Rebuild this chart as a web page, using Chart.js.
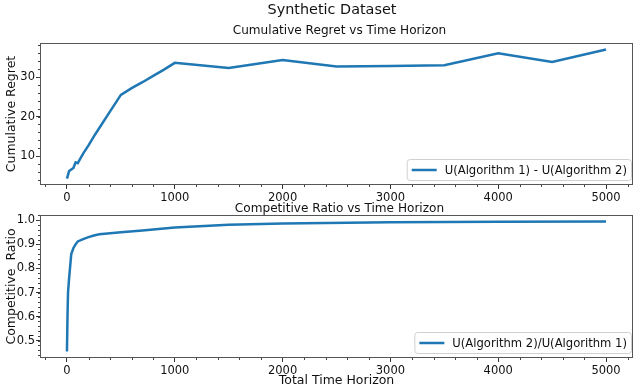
<!DOCTYPE html>
<html>
<head>
<meta charset="utf-8">
<script src="https://cdn.jsdelivr.net/npm/chart.js@4.4.0/dist/chart.umd.min.js"></script>
<style>
  html, body { margin: 0; padding: 0; background: #fff; }
  #wrap { position: relative; width: 640px; height: 388px; overflow: hidden; }
  #wrap canvas { position: absolute; left: 0; top: 0; }
  #suptitle { position: absolute; left: 0; top: 1px; width: 664px; text-align: center;
              font: 14.4px "DejaVu Sans"; line-height: 17px; color: #111; }
</style>
</head>
<body>
<div id="wrap">
  <canvas id="regret" width="640" height="388"></canvas>
  <canvas id="ratio" width="640" height="388"></canvas>
  <div id="suptitle">Synthetic Dataset</div>
</div>
<script>
// time horizon points and values
const horizonRegret = [0, 20, 40, 60, 80, 100, 150, 200, 250, 300, 400, 500, 600, 700, 800, 900, 1000,
                       1500, 2000, 2500, 3000, 3500, 4000, 4500, 5000];
const cumRegret = [4.3, 6.2, 6.6, 7.0, 8.4, 8.2, 10.6, 12.7, 15.0, 17.1, 21.3, 25.5, 27.2, 28.7, 30.3, 31.9, 33.6,
                   32.3, 34.3, 32.7, 32.8, 33.0, 36.0, 33.8, 37.0];

const horizonRatio = [0, 5, 10, 20, 40, 60, 80, 100, 150, 200, 250, 300, 400, 500, 700, 1000,
                      1500, 2000, 3000, 4000, 5000];
const compRatio = [0.455, 0.6, 0.7, 0.76, 0.86, 0.885, 0.9, 0.912, 0.922, 0.93, 0.937, 0.942, 0.946, 0.95, 0.958, 0.97,
                   0.981, 0.987, 0.992, 0.994, 0.995];

const xTicks = [0, 1000, 2000, 3000, 4000, 5000];
const regretTicks = [10, 20, 30];
const ratioTicks = [0.5, 0.6, 0.7, 0.8, 0.9, 1.0];

const BLUE = '#1f77b4';
const FONT = '"DejaVu Sans"';

// box, minor ticks, subplot title and legend, matplotlib style
const framePlugin = {
  id: 'frame',
  afterDraw(chart, args, o) {
    const {ctx, chartArea: a, scales} = chart;
    ctx.save();
    ctx.strokeStyle = '#555';
    ctx.lineWidth = 1;
    ctx.strokeRect(a.left + 0.5, a.top + 0.5, a.right - a.left - 1, a.bottom - a.top - 1);

    // minor ticks
    ctx.strokeStyle = '#444';
    ctx.beginPath();
    for (let v = -200; v <= 5200; v += 200) {
      if (v % 1000 === 0) continue;
      const px = Math.round(scales.x.getPixelForValue(v)) + 0.5;
      ctx.moveTo(px, a.bottom); ctx.lineTo(px, a.bottom + 2);
    }
    const ys = scales.y;
    for (let i = Math.ceil(ys.min / o.minorY); i * o.minorY <= ys.max; i++) {
      const v = i * o.minorY;
      const py = Math.round(ys.getPixelForValue(v)) + 0.5;
      ctx.moveTo(a.left, py); ctx.lineTo(a.left - 2, py);
    }
    ctx.stroke();

    // subplot title
    ctx.fillStyle = '#111';
    ctx.font = '12.1px ' + FONT;
    ctx.textAlign = 'center';
    ctx.textBaseline = 'alphabetic';
    ctx.fillText(o.title, (a.left + a.right) / 2 + 3, a.top - o.titleGap);

    // legend in lower right corner
    const label = chart.data.datasets[0].label;
    ctx.font = '11.6px ' + FONT;
    const tw = ctx.measureText(label).width;
    const w = tw + 4 + 5 + 25 + 8;
    const h = 21;
    const right = a.right - 2, bottom = a.bottom - 5;
    const left = right - w, top = bottom - h;
    ctx.fillStyle = 'rgba(255,255,255,0.85)';
    ctx.strokeStyle = '#d0d0d0';
    ctx.beginPath();
    ctx.roundRect(left + 0.5, top + 0.5, w, h, 3);
    ctx.fill();
    ctx.stroke();
    ctx.strokeStyle = BLUE;
    ctx.lineWidth = 2.5;
    ctx.beginPath();
    ctx.moveTo(left + 5, top + h / 2 + 0.5);
    ctx.lineTo(left + 30, top + h / 2 + 0.5);
    ctx.stroke();
    ctx.fillStyle = '#111';
    ctx.textAlign = 'left';
    ctx.textBaseline = 'middle';
    ctx.fillText(label, left + 38, top + h / 2 + 1);
    ctx.restore();
  }
};

function makeChart(id, cfg) {
  const points = cfg.xs.map((x, i) => ({x: x, y: cfg.ys[i]}));
  return new Chart(document.getElementById(id), {
    type: 'line',
    data: {
      datasets: [{
        label: cfg.label,
        data: points,
        borderColor: BLUE,
        borderWidth: 2.5,
        pointRadius: 0,
        tension: 0,
        fill: false
      }]
    },
    options: {
      responsive: false,
      animation: false,
      layout: {padding: cfg.padding},
      plugins: {
        legend: {display: false},
        tooltip: {enabled: false},
        frame: {title: cfg.title, titleGap: cfg.titleGap, minorY: cfg.minorY}
      },
      scales: {
        x: {
          type: 'linear',
          min: -250,
          max: 5250,
          afterBuildTicks: s => { s.ticks = xTicks.map(v => ({value: v})); },
          afterFit: s => { s.height = cfg.xHeight; },
          grid: {drawOnChartArea: false, drawTicks: true, tickLength: 4, color: '#333'},
          border: {display: false},
          ticks: {color: '#111', font: {family: FONT, size: 11.5}, padding: 2, maxRotation: 0,
                  callback: v => String(v)},
          title: cfg.xTitle ? {display: true, text: cfg.xTitle, color: '#111',
                               font: {family: FONT, size: 12.5}, padding: {top: 0, bottom: 0}} : {display: false}
        },
        y: {
          type: 'linear',
          min: cfg.yMin,
          max: cfg.yMax,
          afterBuildTicks: s => { s.ticks = cfg.yTicks.map(v => ({value: v})); },
          afterFit: s => { s.width = 40; },
          grid: {drawOnChartArea: false, drawTicks: true, tickLength: 4, color: '#333'},
          border: {display: false},
          ticks: {color: '#111', font: {family: FONT, size: 11.5}, padding: 1,
                  callback: cfg.yFormat},
          title: {display: true, text: cfg.yTitle, color: '#111',
                  font: {family: FONT, size: 12.5}, padding: {top: 4, bottom: 0}}
        }
      }
    },
    plugins: [framePlugin]
  });
}

makeChart('regret', {
  xs: horizonRegret, ys: cumRegret,
  label: 'U(Algorithm 1) - U(Algorithm 2)',
  title: 'Cumulative Regret vs Time Horizon', titleGap: 9,
  yTitle: 'Cumulative Regret',
  yMin: 2.67, yMax: 38.63, yTicks: regretTicks, minorY: 2,
  yFormat: v => String(v),
  padding: {top: 43, right: 7, bottom: 181, left: 0},
  xHeight: 22
});

makeChart('ratio', {
  xs: horizonRatio, ys: compRatio,
  label: 'U(Algorithm 2)/U(Algorithm 1)',
  title: 'Competitive Ratio vs Time Horizon', titleGap: 3,
  yTitle: 'Competitive  Ratio',
  xTitle: 'Total Time Horizon',
  yMin: 0.428, yMax: 1.022, yTicks: ratioTicks, minorY: 0.02,
  yFormat: v => v.toFixed(1),
  padding: {top: 215, right: 7, bottom: 0, left: 0},
  xHeight: 30
});
</script>
</body>
</html>
